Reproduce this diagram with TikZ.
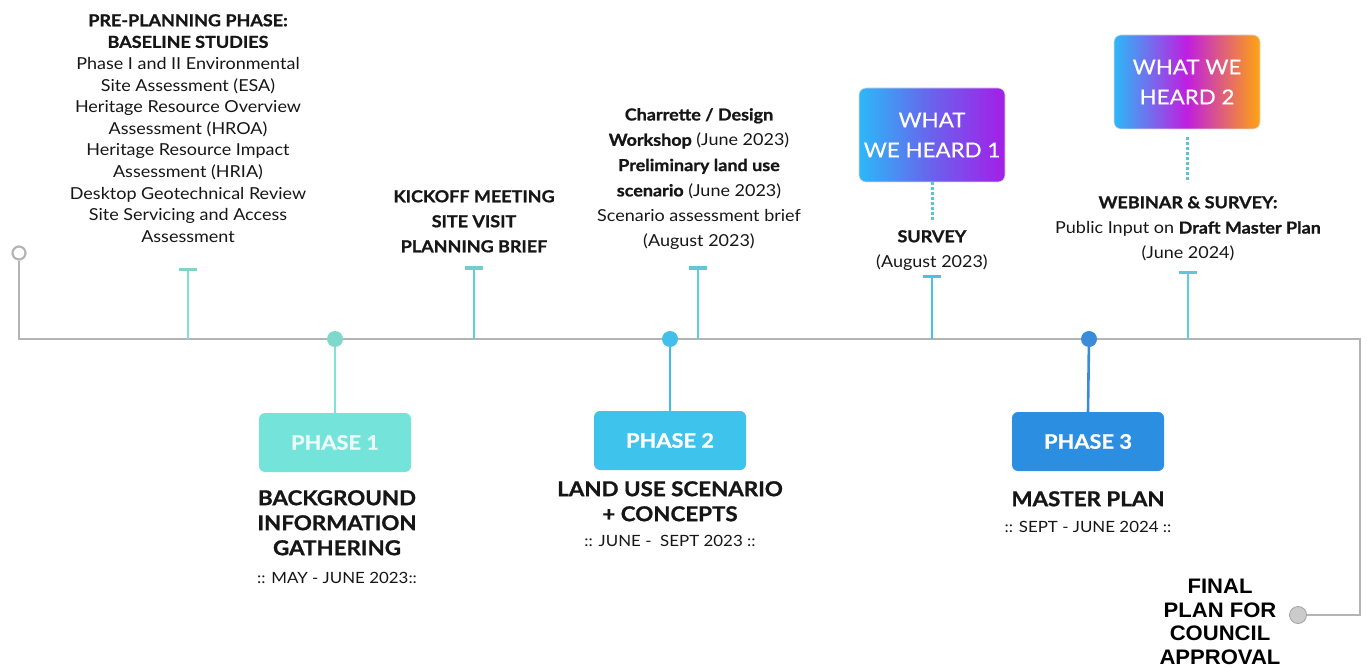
\documentclass[tikz,border=0pt]{standalone}
\usepackage{fontspec}
\setmainfont{Lato}[FakeStretch=1.09, BoldFeatures={FakeBold=1}]
\newfontfamily\arialfont{Liberation Sans}[FakeStretch=1.05]
\usetikzlibrary{arrows.meta}

\definecolor{railgray}{HTML}{B4B4B4}
\definecolor{mint}{HTML}{7FE2D4}
\definecolor{mintbox}{HTML}{74E4DA}
\definecolor{aqua}{HTML}{5CCFE4}
\definecolor{sky}{HTML}{42C0EA}
\definecolor{skybox}{HTML}{3DC3EC}
\definecolor{royal}{HTML}{3A8CD8}
\definecolor{royalbox}{HTML}{2C8EE0}
\definecolor{dotteal}{HTML}{5EC2D6}
\definecolor{wcyan}{HTML}{2CB8F8}
\definecolor{wblue}{HTML}{6A62EC}
\definecolor{wpurple}{HTML}{A41EE8}
\definecolor{wmagenta}{HTML}{C01EE0}
\definecolor{worange}{HTML}{FFA410}
\definecolor{ink}{HTML}{161616}

\tikzset{
  rail/.style={draw=railgray, line width=2.6pt},
  bodytext/.style={align=center, inner sep=0pt, text=ink,
    font=\fontsize{16.5}{21.6}\selectfont},
  eventtext/.style={align=center, inner sep=0pt, text=ink,
    font=\fontsize{16.5}{25.3}\selectfont},
  titletext/.style={align=center, inner sep=0pt, text=ink,
    font=\fontsize{20.5}{25}\selectfont\bfseries},
  datetext/.style={align=center, inner sep=0pt, text=ink,
    font=\fontsize{15.5}{20}\selectfont},
  phasebox/.style={rounded corners=6pt, minimum width=152pt, minimum height=59pt,
    inner sep=0pt, text=white, font=\fontsize{20}{22}\selectfont\bfseries},
  heardbox/.style={rounded corners=7pt, minimum width=146pt, minimum height=94pt,
    inner sep=0pt, text=white, align=center, draw=white!70!gray, line width=0.6pt,
    font=\fontsize{20.5}{30}\selectfont\addfontfeatures{FakeBold=0.4}},
  phasedot/.style={circle, inner sep=0pt, minimum size=16pt},
  tickstem/.style={line width=2.6pt},
  tickbar/.style={line width=3pt},
  heardlink/.style={line width=3pt, draw=dotteal, dash pattern=on 3pt off 2pt},
}

\begin{document}
\begin{tikzpicture}[x=1pt, y=-1pt]
\useasboundingbox (0,0) rectangle (1367,668);

% ---- timeline rail ----
\node[circle, draw=railgray, line width=2.2pt, fill=white, minimum size=13pt, inner sep=0pt] (start) at (19,253) {};
\node[circle, draw=railgray!90!black, fill=railgray!70!white, line width=0.8pt, minimum size=17pt, inner sep=0pt] (finish) at (1298,615) {};
\coordinate (railL) at (19,339);
\coordinate (railR) at (1360,339);
\coordinate (railD) at (1360,615);
\draw[rail] (start.south) -- (railL) -- (railR) -- (railD) -- (finish.east);

% ---- event ticks above the rail ----
\coordinate (k1) at (188,339);  \coordinate (k1t) at (188,269);
\coordinate (k2) at (474,339);  \coordinate (k2t) at (474,268);
\coordinate (k3) at (698,339);  \coordinate (k3t) at (698,268);
\coordinate (k4) at (932,339);  \coordinate (k4t) at (932,276);
\coordinate (k5) at (1188,339); \coordinate (k5t) at (1188,272);
\draw[tickstem, draw=mint] (k1) -- (k1t);
\draw[tickbar, draw=mint!85!gray] ([xshift=-9pt]k1t) -- ([xshift=9pt]k1t);
\draw[tickstem, draw=aqua] (k2) -- (k2t);
\draw[tickbar, draw=mint!60!aqua!85!gray] ([xshift=-9pt]k2t) -- ([xshift=9pt]k2t);
\draw[tickstem, draw=aqua] (k3) -- (k3t);
\draw[tickbar, draw=aqua!90!gray] ([xshift=-9pt]k3t) -- ([xshift=9pt]k3t);
\draw[tickstem, draw=sky!80!aqua] (k4) -- (k4t);
\draw[tickbar, draw=sky!80!aqua] ([xshift=-9pt]k4t) -- ([xshift=9pt]k4t);
\draw[tickstem, draw=aqua] (k5) -- (k5t);
\draw[tickbar, draw=aqua!90!gray] ([xshift=-9pt]k5t) -- ([xshift=9pt]k5t);

% ---- phase boxes ----
\node[phasebox, fill=mintbox, text=white!85!mintbox] (p1) at (335,442.5) {PHASE 1};
\node[phasebox, fill=skybox] (p2) at (670,440.5) {PHASE 2};
\node[phasebox, fill=royalbox] (p3) at (1088,441.5) {PHASE 3};

\node[phasedot, fill=mint!90!gray] (d1) at (335,339) {};
\node[phasedot, fill=sky] (d2) at (670,339) {};
\node[phasedot, fill=royal] (d3) at (1089,339) {};
\draw[tickstem, draw=mint] (d1) -- (p1.north);
\draw[tickstem, draw=sky!90!royal] (d2) -- (p2.north);
\draw[tickstem, draw=royal] (d3) -- (p3.north);

% ---- phase titles ----
\node[titletext, anchor=north] (t1) at (337,490) {BACKGROUND\\INFORMATION\\GATHERING};
\node[datetext, anchor=north] (dt1) at (337,572) {:: MAY - JUNE 2023::};
\node[titletext, anchor=north] (t2) at (670,481) {LAND USE SCENARIO\\+ CONCEPTS};
\node[datetext, anchor=north] (dt2) at (670,535) {:: JUNE -\ \ SEPT 2023 ::};
\node[titletext, anchor=north] (t3) at (1088,491) {MASTER PLAN};
\node[datetext, anchor=north] (dt3) at (1088,521) {:: SEPT - JUNE 2024 ::};

\node[align=center, inner sep=0pt, text=black, anchor=north,
  font=\arialfont\fontsize{21}{23.5}\selectfont\bfseries] (fin) at (1220,579)
  {FINAL\\PLAN FOR\\COUNCIL\\APPROVAL};

% ---- event descriptions ----
\node[bodytext, anchor=north] (pre) at (188,14)
  {\textbf{PRE-PLANNING PHASE:}\\\textbf{BASELINE STUDIES}\\
   Phase I and II Environmental\\Site Assessment (ESA)\\
   Heritage Resource Overview\\Assessment (HROA)\\
   Heritage Resource Impact\\Assessment (HRIA)\\
   Desktop Geotechnical Review\\Site Servicing and Access\\Assessment};
\node[eventtext, anchor=north, font=\fontsize{16.5}{25}\selectfont\bfseries] (kick) at (474,190)
  {KICKOFF MEETING\\SITE VISIT\\PLANNING BRIEF};
\node[eventtext, anchor=north] (char) at (699,108)
  {\textbf{Charrette / Design}\\\textbf{Workshop} (June 2023)\\
   \textbf{Preliminary land use}\\\textbf{scenario} (June 2023)\\
   Scenario assessment brief\\(August 2023)};
\node[eventtext, anchor=north] (surv) at (932,230)
  {\textbf{SURVEY}\\(August 2023)};
\node[eventtext, anchor=north] (web) at (1188,196)
  {\textbf{WEBINAR \& SURVEY:}\\Public Input on \textbf{Draft Master Plan}\\(June 2024)};

% ---- what we heard boxes ----
\node[heardbox, left color=wcyan, right color=wpurple, middle color=wblue] (h1) at (932,135) {WHAT\\WE HEARD 1};
\node[heardbox, left color=wcyan, right color=worange, middle color=wmagenta] (h2) at (1187,82) {WHAT WE\\HEARD 2};
\draw[heardlink] (h1.south) -- ([yshift=-38pt]h1.south);
\draw[heardlink] ([yshift=-8pt]h2.south) -- ([yshift=-53pt]h2.south);
\end{tikzpicture}
\end{document}
